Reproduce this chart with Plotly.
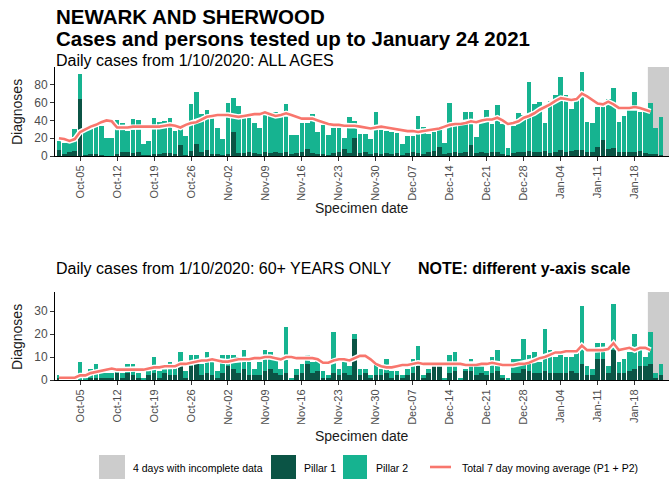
import pandas as pd
import plotly.graph_objects as go

dates = pd.date_range("2020-10-01", "2021-01-24", freq="D").strftime("%Y-%m-%d").tolist()
ma_dates = dates[:113]  # moving average shown up to Jan 21

# ---- ALL AGES ----
all_total = [
    # Oct
    17, 15, 16, 30, 92, 28, 30, 33, 34, 20, 20, 41, 37, 28, 42, 40, 13, 17, 43, 38, 39, 43, 28, 32, 23, 58, 72, 47, 52, 44, 31,
    # Nov
    19, 59, 65, 56, 43, 43, 37, 31, 46, 45, 50, 44, 58, 24, 24, 37, 37, 47, 27, 35, 24, 31, 31, 20, 44, 39, 25, 25, 19, 49,
    # Dec
    29, 28, 27, 26, 14, 23, 23, 45, 33, 25, 27, 29, 15, 59, 34, 35, 49, 49, 21, 37, 52, 36, 57, 36, 9, 34, 48, 46, 83, 58, 61,
    # Jan
    37, 62, 68, 89, 68, 53, 66, 94, 38, 37, 55, 55, 64, 76, 38, 45, 53, 72, 50, 49, 60, 31, 44, 0,
]
all_p1 = [
    7, 2, 5, 6, 64, 1, 2, 2, 1, 0, 0, 2, 4, 4, 3, 4, 1, 1, 2, 2, 3, 3, 2, 12, 1, 6, 13, 4, 7, 2, 2,
    1, 2, 27, 3, 3, 4, 3, 2, 4, 3, 4, 3, 5, 2, 3, 4, 8, 3, 2, 2, 1, 3, 4, 8, 3, 20, 3, 4, 2, 3,
    2, 3, 2, 3, 1, 3, 4, 3, 2, 4, 6, 10, 2, 3, 4, 3, 4, 12, 3, 4, 3, 4, 5, 2, 1, 3, 5, 4, 6, 5, 4,
    6, 3, 4, 7, 4, 6, 7, 7, 5, 4, 10, 18, 8, 9, 4, 5, 4, 4, 6, 3, 2, 2, 1, 0,
]
all_ma = [
    20, 19, 17, 19, 27, 30, 33, 35, 38, 40, 39, 32, 32, 32, 33, 33, 33, 33, 33, 33, 34, 35, 34, 32, 35, 37, 38, 41, 44, 45, 46,
    46, 46, 45, 44, 45, 46, 47, 47, 49, 47, 45, 46, 48, 46, 44, 42, 42, 42, 40, 38, 36, 35, 35, 34, 34, 34, 33, 32, 31, 32,
    33, 32, 31, 30, 29, 28, 28, 27, 28, 29, 30, 31, 33, 35, 36, 36, 37, 39, 38, 40, 41, 41, 43, 40, 36, 37, 39, 43, 45, 48, 52,
    55, 58, 62, 65, 64, 63, 64, 70, 67, 63, 59, 58, 61, 58, 54, 54, 54, 55, 54, 52, 50,
]

# ---- 60+ YEARS ----
old_total = [
    2, 1, 1, 1, 8, 1, 5, 7, 5, 3, 3, 4, 3, 7, 7, 3, 1, 6, 10, 4, 5, 8, 7, 12, 4, 11, 11, 7, 12, 9, 4,
    11, 11, 11, 10, 13, 8, 5, 8, 13, 12, 9, 5, 23, 1, 5, 7, 11, 8, 9, 4, 2, 21, 5, 9, 6, 20, 5, 5, 2, 8,
    5, 9, 4, 4, 2, 5, 9, 15, 2, 5, 6, 6, 1, 11, 12, 1, 5, 9, 6, 6, 4, 10, 13, 2, 1, 9, 9, 18, 11, 12, 8,
    22, 13, 10, 11, 10, 10, 12, 32, 6, 5, 16, 16, 6, 33, 8, 9, 12, 20, 15, 10, 21, 3, 7, 0,
]
old_p1 = [
    1, 0, 0, 0, 0, 0, 1, 1, 1, 1, 1, 3, 1, 3, 2, 1, 0, 2, 3, 1, 3, 2, 2, 6, 1, 6, 7, 2, 3, 2, 1,
    3, 6, 5, 3, 5, 2, 2, 2, 4, 5, 3, 2, 3, 0, 2, 3, 7, 3, 4, 1, 1, 3, 2, 3, 2, 18, 2, 3, 1, 2,
    2, 3, 1, 2, 1, 2, 3, 6, 1, 3, 6, 6, 0, 3, 4, 0, 4, 4, 2, 3, 2, 3, 4, 1, 0, 3, 3, 5, 4, 3, 3,
    4, 3, 3, 3, 3, 4, 3, 7, 2, 2, 9, 9, 3, 13, 3, 3, 4, 5, 6, 6, 7, 1, 2, 0,
]
old_ma = [
    1, 1, 1, 1, 2, 2, 3, 3.5, 4, 4.5, 5, 4.5, 4.5, 4.5, 4.5, 4.5, 4.5, 5, 5.5, 5.5, 6, 6, 6, 7, 7, 7.5, 8, 8.5, 8.5, 9, 8.5,
    8, 8, 8.5, 9, 9, 9, 9.5, 9.5, 10, 10, 9.5, 9, 10, 10, 9.5, 9.5, 9.5, 9.5, 9, 7.5, 7.5, 8.5, 9, 9, 8.5, 9.5, 10.5, 10.5, 9, 7,
    6, 5.5, 5.5, 6, 6.5, 6.5, 7, 7.5, 7, 7, 7, 7, 7, 7, 7, 7, 6.5, 6.5, 6.5, 7, 7, 7.5, 7, 6.5, 6.5, 6.5, 7, 7, 7.5, 8.5, 9.5,
    10, 11, 12, 12, 12.5, 12.5, 12.5, 15, 13, 13, 13, 13, 13.5, 16, 13, 13.5, 14, 13, 14, 14, 13,
]

tick_dates = ["2020-10-05", "2020-10-12", "2020-10-19", "2020-10-26", "2020-11-02", "2020-11-09",
              "2020-11-16", "2020-11-23", "2020-11-30", "2020-12-07", "2020-12-14", "2020-12-21",
              "2020-12-28", "2021-01-04", "2021-01-11", "2021-01-18"]
tick_text = ["Oct-05", "Oct-12", "Oct-19", "Oct-26", "Nov-02", "Nov-09", "Nov-16", "Nov-23",
             "Nov-30", "Dec-07", "Dec-14", "Dec-21", "Dec-28", "Jan-04", "Jan-11", "Jan-18"]

P1_COL = "#0b5445"
P2_COL = "#16b390"
MA_COL = "#f8766d"
GREY = "#cccccc"
FONT = "Liberation Sans, Arial, sans-serif"

all_p2 = [t - p for t, p in zip(all_total, all_p1)]
old_p2 = [t - p for t, p in zip(old_total, old_p1)]

fig = go.Figure()
for (p1, p2, ma, xa, ya) in [(all_p1, all_p2, all_ma, "x", "y"), (old_p1, old_p2, old_ma, "x2", "y2")]:
    fig.add_trace(go.Bar(x=dates, y=p1, marker=dict(color=P1_COL, line=dict(width=0)),
                         xaxis=xa, yaxis=ya, showlegend=False))
    fig.add_trace(go.Bar(x=dates, y=p2, marker=dict(color=P2_COL, line=dict(width=0)),
                         xaxis=xa, yaxis=ya, showlegend=False))
    fig.add_trace(go.Scatter(x=ma_dates, y=ma, mode="lines", line=dict(color="white", width=5.5),
                             xaxis=xa, yaxis=ya, showlegend=False, hoverinfo="skip"))
    fig.add_trace(go.Scatter(x=ma_dates, y=ma, mode="lines", line=dict(color=MA_COL, width=2.6),
                             xaxis=xa, yaxis=ya, showlegend=False))

xrange = ["2020-09-30 06:00", "2021-01-24 12:00"]
xcommon = dict(range=xrange, type="date", tickmode="array", tickvals=tick_dates, ticktext=tick_text,
               tickangle=-90, showline=True, linecolor="black", linewidth=1, ticks="outside",
               ticklen=4, tickcolor="#333333", showgrid=False, zeroline=False, automargin=False,
               tickfont=dict(family=FONT, size=11, color="#4d4d4d"))
ycommon = dict(showline=True, linecolor="black", linewidth=1, ticks="outside", ticklen=4,
               tickcolor="#333333", showgrid=False, zeroline=False, automargin=False,
               tickfont=dict(family=FONT, size=12, color="#4d4d4d"))

H = 313.0
def py(px):
    return (380 - px) / H
def pxx(px):
    return (px - 55) / 614.0

fig.update_layout(
    template="none",
    width=670, height=483,
    margin=dict(l=55, r=1, t=67, b=103, autoexpand=False),
    paper_bgcolor="white", plot_bgcolor="white",
    barmode="stack", bargap=0.12,
    xaxis=dict(domain=[0, 1], anchor="y", **xcommon),
    yaxis=dict(domain=[py(156), 1], anchor="x", range=[0, 100], tickvals=[0, 20, 40, 60, 80], **ycommon),
    xaxis2=dict(domain=[0, 1], anchor="y2", **xcommon),
    yaxis2=dict(domain=[0, py(292)], anchor="x2", range=[0, 38.3], tickvals=[0, 10, 20, 30], **ycommon),
    showlegend=False,
    font=dict(family=FONT),
)

shapes = []
for yr in ["y domain", "y2 domain"]:
    shapes.append(dict(type="rect", xref=("x" if yr == "y domain" else "x2"), yref=yr,
                       x0="2021-01-20 12:00", x1="2021-01-24 12:00", y0=0, y1=1,
                       fillcolor=GREY, line=dict(width=0), layer="below"))
# legend swatches
sq_y0, sq_y1 = py(479), py(455)
shapes.append(dict(type="rect", xref="paper", yref="paper", x0=pxx(99), x1=pxx(125), y0=sq_y0, y1=sq_y1,
                   fillcolor=GREY, line=dict(width=0)))
shapes.append(dict(type="rect", xref="paper", yref="paper", x0=pxx(271), x1=pxx(296), y0=sq_y0, y1=sq_y1,
                   fillcolor=P1_COL, line=dict(width=0)))
shapes.append(dict(type="rect", xref="paper", yref="paper", x0=pxx(343), x1=pxx(367), y0=sq_y0, y1=sq_y1,
                   fillcolor=P2_COL, line=dict(width=0)))
shapes.append(dict(type="line", xref="paper", yref="paper", x0=pxx(430), x1=pxx(451), y0=py(467), y1=py(467),
                   line=dict(color=MA_COL, width=2.6)))
fig.update_layout(shapes=shapes)

ann = []
def add(text, x, y, size, xanchor="left", yanchor="middle", bold=False, color="black", angle=0):
    ann.append(dict(text=("<b>%s</b>" % text) if bold else text, x=x, y=y, xref="paper", yref="paper",
                    xanchor=xanchor, yanchor=yanchor, showarrow=False, textangle=angle,
                    font=dict(family=FONT, size=size, color=color)))

add("NEWARK AND SHERWOOD", pxx(54), py(17), 20.5, bold=True)
add("Cases and persons tested up to January 24 2021", pxx(54), py(38), 20.5, bold=True)
add("Daily cases from 1/10/2020: ALL AGES", pxx(54), py(61), 16)
add("Daily cases from 1/10/2020: 60+ YEARS ONLY", pxx(54), py(268), 16)
add("NOTE: different y-axis scale", pxx(416), py(268), 16, bold=True)
add("Diagnoses", pxx(17), py(112), 14, xanchor="center", angle=-90, color="#1a1a1a")
add("Diagnoses", pxx(17), py(337), 14, xanchor="center", angle=-90, color="#1a1a1a")
add("Specimen date", 0.5, py(208), 14, xanchor="center", color="#1a1a1a")
add("Specimen date", 0.5, py(436), 14, xanchor="center", color="#1a1a1a")
add("4 days with incomplete data", pxx(131), py(468), 10.5)
add("Pillar 1", pxx(302), py(468), 10.5)
add("Pillar 2", pxx(374), py(468), 10.5)
add("Total 7 day moving average (P1 + P2)", pxx(460), py(468), 10.5)
fig.update_layout(annotations=ann)

fig.write_html("out.html", config={"displayModeBar": False},
               post_script="document.body.style.margin='0px';")
